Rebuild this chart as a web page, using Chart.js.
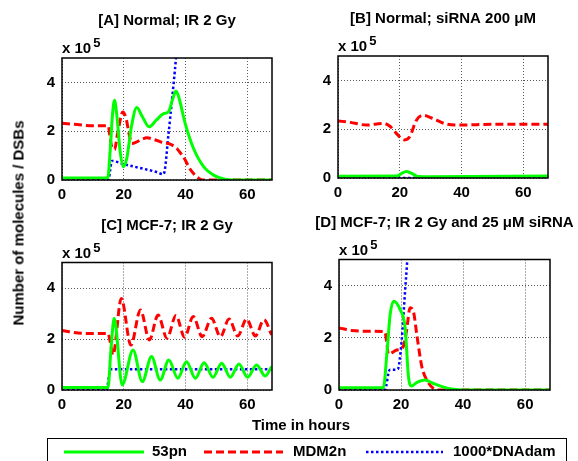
<!DOCTYPE html>
<html>
<head>
<meta charset="utf-8">
<script src="https://cdn.jsdelivr.net/npm/chart.js@4"></script>
<style>
    body { margin: 0; background: #fff; }
    #wrap { position: relative; width: 578px; height: 461px; overflow: hidden; background: #fff;
            font-family: "Liberation Sans", Arial, sans-serif; font-weight: bold; color: #000; }
    #wrap canvas { position: absolute; }
    .ylabel { position: absolute; left: 18px; top: 223px; font-size: 15px; white-space: nowrap;
              transform: translate(-50%, -50%) rotate(-90deg); }
    .xlabel { position: absolute; left: 301px; top: 416px; font-size: 15px; transform: translateX(-50%); white-space: nowrap; }
    .legend { position: absolute; left: 47px; top: 438px; width: 520px; height: 40px; border: 1px solid #000; box-sizing: border-box; }
    .legend svg { position: absolute; left: 0; top: 0; }
    .legend span { position: absolute; top: 3px; font-size: 15px; white-space: nowrap; }
</style>
</head>
<body>
<div id="wrap">
    <canvas id="panel-a"></canvas>
    <canvas id="panel-b"></canvas>
    <canvas id="panel-c"></canvas>
    <canvas id="panel-d"></canvas>
    <div class="ylabel">Number of molecules / DSBs</div>
    <div class="xlabel">Time in hours</div>
    <div class="legend">
        <svg width="520" height="40">
            <line x1="16" y1="13" x2="96" y2="13" stroke="#00ff00" stroke-width="3"/>
            <line x1="156" y1="13" x2="235" y2="13" stroke="#ff0000" stroke-width="3" stroke-dasharray="8 4"/>
            <line x1="318" y1="13" x2="395" y2="13" stroke="#0000ff" stroke-width="2.5" stroke-dasharray="2.5 2.5"/>
        </svg>
        <span style="left:104px">53pn</span>
        <span style="left:245px">MDM2n</span>
        <span style="left:405px">1000*DNAdam</span>
    </div>
</div>
<script>
// axis ticks (hours / x 10^5 molecules)
const xTicks = [0, 20, 40, 60];
const yTicks = [0, 2, 4];
const X_MAX = 68;
const Y_MAX = 5;

const seriesNames = ['53pn', 'MDM2n', '1000*DNAdam'];

// [A] Normal; IR 2 Gy   -- [hour, value x 10^5]
const aP53 = [[0,0.08],[14.8,0.08],[15.6,1.2],[16.3,2.6],[17,3.27],[17.8,2.6],[18.8,1.2],[19.9,0.54],[21,0.9],[22.5,2.2],[24.2,2.97],[26,2.6],[28.2,2.18],[30.5,2.45],[32.9,2.72],[34.5,2.8],[35.8,3.3],[36.9,3.65],[37.8,3.4],[39.9,2.31],[42.6,1.29],[45.9,0.54],[49.1,0.2],[52.4,0.04],[55,0],[68,0]];
const aMdm2 = [[0,2.33],[5,2.27],[10,2.22],[15,2.22],[15.5,1.8],[16.1,1.36],[17,1.25],[18,1.9],[19.7,2.79],[20.8,2.5],[21.7,1.9],[22.6,1.5],[24,1.55],[25.5,1.65],[27.5,1.73],[30,1.65],[32.9,1.52],[35,1.47],[37.2,1.29],[38.5,1.08],[39.9,0.82],[41.2,0.5],[42.6,0.27],[44.8,0.03],[46,0],[68,0]];
const aDna = [[0,0],[15,0],[15.6,0.4],[16.1,0.78],[20,0.65],[25,0.5],[30,0.35],[32.9,0.24],[34.5,1.9],[35.6,3.27],[36.9,5],[38,7]];

// [B] Normal; siRNA 200 uM
const bP53 = [[0,0.07],[18.9,0.08],[20.5,0.18],[22.1,0.27],[23.7,0.2],[25.9,0.06],[30,0.05],[68,0.08]];
const bMdm2 = [[0,2.34],[4,2.28],[9.2,2.17],[14.6,2.24],[16.7,2.13],[18.9,1.83],[20.5,1.62],[21.6,1.56],[23.2,1.69],[25.4,2.37],[27.5,2.57],[30.7,2.44],[35.1,2.21],[39.4,2.17],[50,2.2],[68,2.2]];
const bDna = [[0,0],[68,0]];

// [C] MCF-7; IR 2 Gy
const cP53 = [[0,0.1],[14.9,0.1],[15.8,1.5],[16.9,2.81],[19.5,0.2],[23,1.57],[26,0.33],[29,1.31],[31.8,0.39],[34.6,1.18],[37.5,0.46],[40.3,1.11],[43.2,0.46],[46,1.07],[48.9,0.5],[51.7,1.05],[54.5,0.5],[57.3,1.02],[60.1,0.5],[63,0.98],[65.8,0.55],[67.9,0.92]];
const cMdm2 = [[0,2.33],[6.8,2.22],[14.9,2.22],[15.6,1.9],[16.5,1.37],[19.2,3.59],[22.3,1.76],[25.4,3.14],[28.3,1.96],[31.1,2.94],[34,2.03],[36.9,2.92],[39.7,2.07],[42.5,2.88],[45.4,2.09],[48.4,2.81],[51.3,2.09],[54.1,2.78],[56.9,2.12],[59.8,2.78],[62.6,2.12],[65.4,2.75],[67.9,2.16]];
const cDna = [[0,0],[14.4,0],[15.7,0.81],[68,0.81]];

// [D] MCF-7; IR 2 Gy and 25 uM siRNA
const dP53 = [[0,0.09],[14.3,0.09],[15.5,1.5],[16.5,2.9],[17.6,3.4],[19.7,3.08],[21.3,2.4],[22.4,0.5],[23.4,0.15],[25,0.28],[27.7,0.38],[30.4,0.25],[33.7,0.11],[36.9,0.03],[40,0],[68,0]];
const dMdm2 = [[0,2.38],[4.1,2.28],[10,2.25],[14.8,2.23],[15.4,1.8],[15.9,1.38],[18.6,1.53],[20.7,1.66],[21.8,2.3],[22.9,3.15],[24,3.0],[25.1,2.1],[26.7,0.89],[28.3,0.38],[30.4,0.06],[32,0],[68,0]];
const dDna = [[0,0],[14.8,0],[16.3,0.77],[18.9,0.79],[20.2,1.9],[21.3,3.8],[22,5],[22.5,6.2]];

const FONT = '"Liberation Sans", Arial, sans-serif';

const panels = [
    { id: 'panel-a', title: '[A] Normal; IR 2 Gy', data: [aP53, aMdm2, aDna],
      frame: { x: 0, y: 0, w: 289, h: 205 }, area: { left: 62, top: 58, right: 272, bottom: 180 } },
    { id: 'panel-b', title: '[B] Normal; siRNA 200 μM', data: [bP53, bMdm2, bDna],
      frame: { x: 289, y: 0, w: 289, h: 205 }, area: { left: 338, top: 56, right: 548, bottom: 178 } },
    { id: 'panel-c', title: '[C] MCF-7; IR 2 Gy', data: [cP53, cMdm2, cDna],
      frame: { x: 0, y: 205, w: 289, h: 215 }, area: { left: 62, top: 262.5, right: 272, bottom: 390 } },
    { id: 'panel-d', title: '[D] MCF-7; IR 2 Gy and 25 μM siRNA', data: [dP53, dMdm2, dDna],
      frame: { x: 289, y: 205, w: 289, h: 215 }, area: { left: 339, top: 259.5, right: 550, bottom: 390 } }
];

const Y_AXIS_W = 30;
const X_AXIS_H = 25;

const STYLES = [
    { borderColor: '#00ff00', borderWidth: 3, borderDash: [] },
    { borderColor: '#ff0000', borderWidth: 3, borderDash: [8, 4] },
    { borderColor: '#0000ff', borderWidth: 2.5, borderDash: [2.5, 2.5] }
];

// box, subplot title and the "x 10^5" exponent, like the matlab axes
const panelDecor = {
    id: 'panelDecor',
    afterDraw(chart, args, opts) {
        const { ctx, chartArea: a } = chart;
        ctx.save();
        ctx.strokeStyle = '#000';
        ctx.lineWidth = 1.5;
        ctx.strokeRect(a.left, a.top, a.right - a.left, a.bottom - a.top);
        ctx.fillStyle = '#000';
        ctx.font = `bold 15px ${FONT}`;
        ctx.textBaseline = 'alphabetic';
        ctx.textAlign = 'center';
        ctx.fillText(opts.title, (a.left + a.right) / 2, a.top - 33);
        ctx.textAlign = 'left';
        ctx.fillText('x 10', a.left, a.top - 5);
        const w = ctx.measureText('x 10').width;
        ctx.font = `bold 13px ${FONT}`;
        ctx.fillText('5', a.left + w + 2, a.top - 11);
        ctx.restore();
    }
};

function toPoints(pairs) {
    return pairs.map(([x, y]) => ({ x, y }));
}

function makePanel(p) {
    const cv = document.getElementById(p.id);
    cv.width = p.frame.w;
    cv.height = p.frame.h;
    cv.style.left = p.frame.x + 'px';
    cv.style.top = p.frame.y + 'px';
    const pad = {
        left: p.area.left - p.frame.x - Y_AXIS_W,
        top: p.area.top - p.frame.y,
        right: p.frame.x + p.frame.w - p.area.right,
        bottom: p.frame.y + p.frame.h - p.area.bottom - X_AXIS_H
    };
    const gridOpts = { color: 'rgba(0,0,0,0.65)', lineWidth: 1, drawTicks: false };
    const tickFont = { family: FONT, size: 15, weight: 'bold' };
    return new Chart(cv, {
        type: 'line',
        data: {
            datasets: p.data.map((s, i) => ({
                label: seriesNames[i],
                data: toPoints(s),
                ...STYLES[i],
                pointRadius: 0,
                fill: false,
                cubicInterpolationMode: 'monotone'
            }))
        },
        options: {
            responsive: false,
            animation: false,
            layout: { padding: pad },
            plugins: {
                legend: { display: false },
                tooltip: { enabled: false },
                panelDecor: { title: p.title }
            },
            scales: {
                x: {
                    type: 'linear', min: 0, max: X_MAX,
                    afterBuildTicks: axis => { axis.ticks = xTicks.map(v => ({ value: v })); },
                    afterFit: axis => { axis.height = X_AXIS_H; },
                    grid: gridOpts,
                    border: { display: false, dash: [1, 2] },
                    ticks: { color: '#000', font: tickFont, padding: 6, maxRotation: 0 }
                },
                y: {
                    type: 'linear', min: 0, max: Y_MAX,
                    afterBuildTicks: axis => { axis.ticks = yTicks.map(v => ({ value: v })); },
                    afterFit: axis => { axis.width = Y_AXIS_W; },
                    grid: gridOpts,
                    border: { display: false, dash: [1, 2] },
                    ticks: { color: '#000', font: tickFont, padding: 7 }
                }
            }
        },
        plugins: [panelDecor]
    });
}

panels.forEach(makePanel);
</script>
</body>
</html>
